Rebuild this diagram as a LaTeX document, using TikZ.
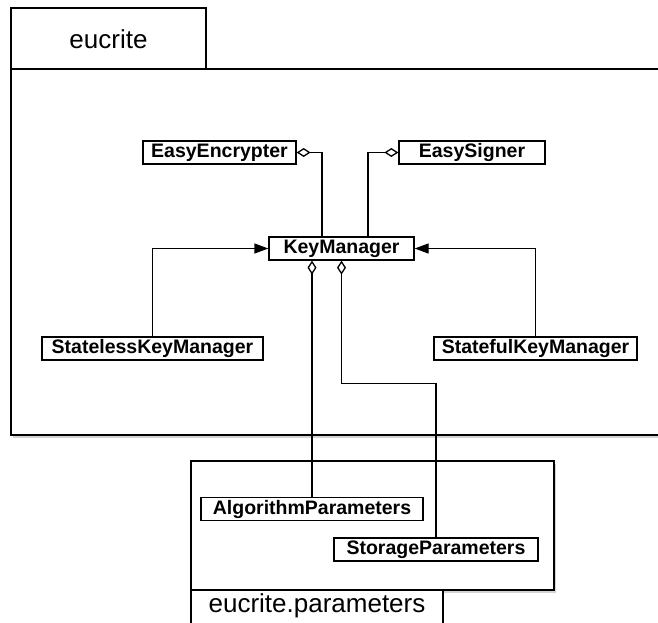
\documentclass[tikz,border=0pt]{standalone}
\usepackage{fontspec}
\setmainfont{Liberation Sans}
\usetikzlibrary{arrows.meta,positioning,shadows}
\tikzset{
    %Define standard arrow tip
    >={Triangle[length=14pt,width=10pt]},
    %Define style for class boxes
    classrect/.style={
           rectangle,
           draw=black, line width=1.3pt,
           minimum height=23pt,
           inner sep=0pt,
           font=\fontsize{19.5}{22}\selectfont\bfseries,
           text centered,
           fill=white},
    %Define style for packages
    pkgbody/.style={
           draw=black, line width=1.3pt,
           fill=white,
           drop shadow={opacity=0.35,shadow xshift=1.5pt,shadow yshift=-3pt}},
    pkgtab/.style={
           draw=black, line width=1.3pt,
           fill=white},
    pkgname/.style={
           font=\fontsize{26}{30}\selectfont},
    % Define arrow style
    agg/.style={
           {Diamond[open,length=14pt,width=9pt]}-,
           line width=1.3pt},
    gen/.style={
           ->,
           line width=1.3pt}
}
\begin{document}
\begin{tikzpicture}[x=1pt,y=-1pt]
\useasboundingbox (0,0) rectangle (658,622);
 %packages
\draw[pkgbody] (11,69) rectangle (690,435);
\draw[pkgtab] (11,8) rectangle (206,69);
\node[pkgname] (p1) at (108.5,39) {eucrite};
\draw[pkgbody] (191,461) rectangle (554,590);
\draw[pkgtab] (191,590) rectangle (443,650);
\node[pkgname] (p2) at (317,606) {eucrite.parameters};
 %nodes
\node[classrect, minimum width=145pt] (1) at (341.5,248.5) {KeyManager};
\node[classrect, minimum width=153pt] (2) at (219.5,152.5) {EasyEncrypter};
\node[classrect, minimum width=146pt] (3) at (472,152.5) {EasySigner};
\node[classrect, minimum width=221pt] (4) at (152.5,348.5) {StatelessKeyManager};
\node[classrect, minimum width=203pt] (5) at (535.5,348.5) {StatefulKeyManager};
\node[classrect, minimum width=222pt] (6) at (312,509) {AlgorithmParameters};
\node[classrect, minimum width=204pt] (7) at (436,549.5) {StorageParameters};
 %edges
\draw[agg] (2.east) -| ([xshift=-19.5pt]1.north);
\draw[agg] (3.west) -| ([xshift=26.5pt]1.north);
\draw[gen] (4.north) |- (1.west);
\draw[gen] (5.north) |- (1.east);
\draw[agg] ([xshift=-29.5pt]1.south) -- (6.north);
\draw[agg] (1.south) -- ++(0,123) -| (7.north);
\end{tikzpicture}
\end{document}
